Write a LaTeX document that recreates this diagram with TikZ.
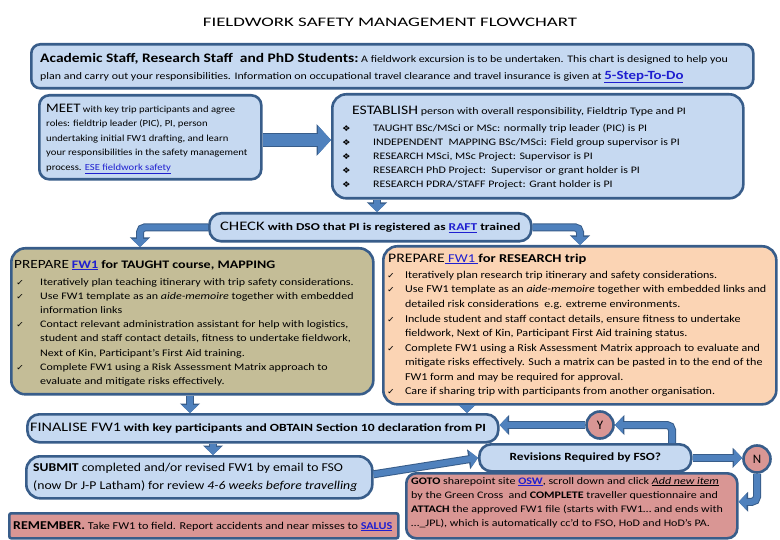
\documentclass[tikz,border=0pt]{standalone}
\usepackage{fontspec}
\setmainfont{Carlito}
\newfontfamily\symfont{DejaVu Sans}
\usetikzlibrary{arrows.meta,calc}
\definecolor{bord}{HTML}{385D8A}
\definecolor{lblue}{HTML}{C6D9F1}
\definecolor{khaki}{HTML}{C4BD97}
\definecolor{peach}{HTML}{FBD4B4}
\definecolor{rose}{HTML}{D99694}
\definecolor{arr}{HTML}{4F81BD}
\definecolor{linkc}{HTML}{1F1FD0}
\newcommand{\lnk}[1]{\textcolor{linkc}{\underline{#1}}}
\newcommand{\fl}{\rule{0pt}{10pt}}
\newcommand{\ck}{{\symfont\fontsize{8}{10}\selectfont ✓}}
\newcommand{\dmd}{{\symfont\fontsize{8}{10}\selectfont ❖}}
\newcommand{\fs}[1]{\fontsize{#1}{14}\selectfont}
\tikzset{
  box/.style={draw=bord, line width=2.6pt, rounded corners=#1, inner sep=0pt, anchor=north west},
  box/.default=10pt,
  txt/.style={inner sep=0pt, anchor=north west, align=left},
  sx/.style={xscale=#1, transform shape},
  arrw/.style={draw=arr, line width=6pt, rounded corners=5pt, -{Triangle[width=16pt,length=8pt]},
    preaction={draw=bord, line width=8pt, rounded corners=5pt, -{Triangle[width=19.5pt,length=9.5pt]}}},
  bigarrw/.style={draw=arr, line width=12pt, -{Triangle[width=28pt,length=13pt]},
    preaction={draw=bord, line width=14pt, -{Triangle[width=31pt,length=14.5pt]}}},
  dec/.style={circle, draw=bord, line width=2.6pt, fill=rose, minimum size=27pt, inner sep=0pt, font=\fs{13}},
}
\begin{document}
\begin{tikzpicture}[x=1pt,y=-1pt]
\useasboundingbox (0,0) rectangle (780,540);
\fill[white] (0,0) rectangle (780,540);

\node[font=\fs{13}, sx=1.45] (title) at (390,22) {FIELDWORK SAFETY MANAGEMENT FLOWCHART};

% boxes
\node[box=9pt, fill=lblue, minimum width=722pt, minimum height=44pt] (top) at (30,43) {};
\node[box=10pt, fill=lblue, minimum width=222pt, minimum height=84pt] (meet) at (38,94) {};
\node[box=14pt, fill=lblue, minimum width=411pt, minimum height=104pt] (est) at (331,93) {};
\node[box=12pt, fill=lblue, minimum width=322pt, minimum height=28pt] (check) at (208,212) {};
\node[box=14pt, fill=khaki, minimum width=362pt, minimum height=146pt] (taught) at (10,247) {};
\node[box=14pt, fill=peach, minimum width=393pt, minimum height=158pt] (research) at (382,245) {};
\node[box=12pt, fill=lblue, minimum width=471pt, minimum height=28pt] (final) at (26,413) {};
\node[box=14pt, fill=lblue, minimum width=346pt, minimum height=42pt] (submit) at (25,455) {};
\node[box=12pt, fill=lblue, minimum width=212pt, minimum height=27pt] (rev) at (478,443) {};
\node[box=10pt, fill=rose, minimum width=331pt, minimum height=65pt] (goto) at (405,472) {};
\node[box=2pt, fill=rose, minimum width=389pt, minimum height=25pt] (remember) at (8,512) {};
\node[dec] (Y) at (600,425) {Y};
\node[dec] (N) at (757,459) {N};

% coordinates for vertical connectors
\coordinate (ax) at (377,0);
\coordinate (tl) at (140,0);
\coordinate (tr) at (580,0);
\coordinate (tx) at (190,0);
\coordinate (rx) at (467,0);
\coordinate (fx) at (213,0);
\coordinate (yx) at (672,0);

% connectors
\draw[bigarrw] (meet.east |- 0,140) -- (est.west |- 0,140);
\draw[arrw] (ax |- est.south) -- (ax |- check.north);
\draw[arrw] (check.west) -| (tl |- taught.north);
\draw[arrw] (check.east) -| (tr |- research.north);
\draw[arrw] (tx |- taught.south) -- (tx |- final.north);
\draw[arrw] (rx |- research.south) -- (rx |- final.north);
\draw[arrw] (fx |- final.south) -- (fx |- submit.north);
\draw[arrw] ([yshift=3pt]submit.east) -- (rev.west);
\draw[arrw] (yx |- rev.north) |- (Y.east);
\draw[arrw] (Y.west) -- (Y.west -| final.east);
\draw[arrw] (rev.east) -- (rev.east -| N.west);
\draw[arrw] (N.south) |- ([yshift=4pt]goto.east);

% texts
\node[txt, sx=1.19] (toptxt1) at (40,52) {\fl{\fs{13}\bfseries Academic Staff, Research Staff\ \ and PhD Students:}\ {\fs{10}A fieldwork excursion is to be undertaken. This chart is designed to help you}};
\node[txt, font=\fs{10}, sx=1.19] (toptxt2) at (40,69) {\fl plan and carry out your responsibilities. Information on occupational travel clearance and travel insurance is given at \lnk{\fs{12.5}\bfseries 5-Step-To-Do}};

\node[txt, font=\fontsize{9.3}{14.5}\selectfont, sx=1.14] (meettxt) at (46,102) {\fl{\fs{13}MEET} with key trip participants and agree\\
roles: fieldtrip leader (PIC), PI, person\\
undertaking initial FW1 drafting, and learn\\
your responsibilities in the safety management\\
process. \lnk{ESE fieldwork safety}};

\node[txt, font=\fs{10}, sx=1.2] (esttitle) at (352,104) {\fl{\fs{13}ESTABLISH} person with overall responsibility, Fieldtrip Type and PI};
\node[txt, font=\fontsize{10}{14}\selectfont, sx=1.19] (estlist) at (342,121) {\fl\makebox[26pt][l]{\dmd}TAUGHT BSc/MSci or MSc: normally trip leader (PIC) is PI\\
\makebox[26pt][l]{\dmd}INDEPENDENT\ \ MAPPING BSc/MSci: Field group supervisor is PI\\
\makebox[26pt][l]{\dmd}RESEARCH MSci, MSc Project: Supervisor is PI\\
\makebox[26pt][l]{\dmd}RESEARCH PhD Project:\ \ Supervisor or grant holder is PI\\
\makebox[26pt][l]{\dmd}RESEARCH PDRA/STAFF Project: Grant holder is PI};

\node[inner sep=0pt, font=\fs{10.5}, sx=1.28] (checktxt) at (check) {{\fs{13}CHECK} \textbf{with DSO that PI is registered as \lnk{RAFT} trained}};

\node[txt, sx=1.22] (taughttitle) at (14,258) {\fl{\fs{12.5}PREPARE} {\fs{11.5}\lnk{\textbf{FW1}} \textbf{for TAUGHT course, MAPPING}}};
\node[txt, font=\fontsize{10}{14.2}\selectfont, sx=1.2] (taughtlist) at (16,275) {\fl\makebox[20pt][l]{\ck}Iteratively plan teaching itinerary with trip safety considerations.\\
\makebox[20pt][l]{\ck}Use FW1 template as an \textit{aide-memoire} together with embedded\\
\hspace*{20pt}information links\\
\makebox[20pt][l]{\ck}Contact relevant administration assistant for help with logistics,\\
\hspace*{20pt}student and staff contact details, fitness to undertake fieldwork,\\
\hspace*{20pt}Next of Kin, Participant's First Aid training.\\
\makebox[20pt][l]{\ck}Complete FW1 using a Risk Assessment Matrix approach to\\
\hspace*{20pt}evaluate and mitigate risks effectively.};

\node[txt, sx=1.21] (restitle) at (388,252) {\fl{\fs{13}PREPARE}{\fs{12}\lnk{\ FW1\ }\textbf{for RESEARCH trip}}};
\node[txt, font=\fontsize{10.5}{14.6}\selectfont, sx=1.15] (reslist) at (387,268) {\fl\makebox[15.5pt][l]{\ck}Iteratively plan research trip itinerary and safety considerations.\\
\makebox[15.5pt][l]{\ck}Use FW1 template as an \textit{aide-memoire} together with embedded links and\\
\hspace*{15.5pt}detailed risk considerations\ \ e.g. extreme environments.\\
\makebox[15.5pt][l]{\ck}Include student and staff contact details, ensure fitness to undertake\\
\hspace*{15.5pt}fieldwork, Next of Kin, Participant First Aid training status.\\
\makebox[15.5pt][l]{\ck}Complete FW1 using a Risk Assessment Matrix approach to evaluate and\\
\hspace*{15.5pt}mitigate risks effectively. Such a matrix can be pasted in to the end of the\\
\hspace*{15.5pt}FW1 form and may be required for approval.\\
\makebox[15.5pt][l]{\ck}Care if sharing trip with participants from another organisation.};

\node[txt, sx=1.24] (finaltxt) at (30,421) {\fl{\fs{13}FINALISE FW1} {\fs{11}\bfseries with key participants and OBTAIN Section 10 declaration from PI}};

\node[txt, font=\fontsize{12}{18}\selectfont, sx=1.14] (submittxt) at (33,461) {\fl\textbf{SUBMIT} completed and/or revised FW1 by email to FSO\\
(now Dr J-P Latham) for review \textit{4-6 weeks before travelling}};

\node[inner sep=0pt, font=\fs{11}\bfseries, sx=1.21] (revtxt) at (rev) {Revisions Required by FSO?};

\node[txt, font=\fontsize{10}{14.2}\selectfont, sx=1.2] (gototxt) at (411,474) {\fl\textbf{GOTO} sharepoint site \lnk{\textbf{OSW}}, scroll down and click \underline{\textit{Add new item}}\\
by the Green Cross\ \ and \textbf{COMPLETE} traveller questionnaire and\\
\textbf{ATTACH} the approved FW1 file (starts with FW1… and ends with\\
…\_JPL), which is automatically cc'd to FSO, HoD and HoD's PA.};

\node[txt, font=\fs{10.5}, sx=1.16] (remtxt) at (13,519) {\fl{\fs{12}\bfseries REMEMBER.} Take FW1 to field. Report accidents and near misses to \lnk{\textbf{SALUS}}};
\end{tikzpicture}
\end{document}
